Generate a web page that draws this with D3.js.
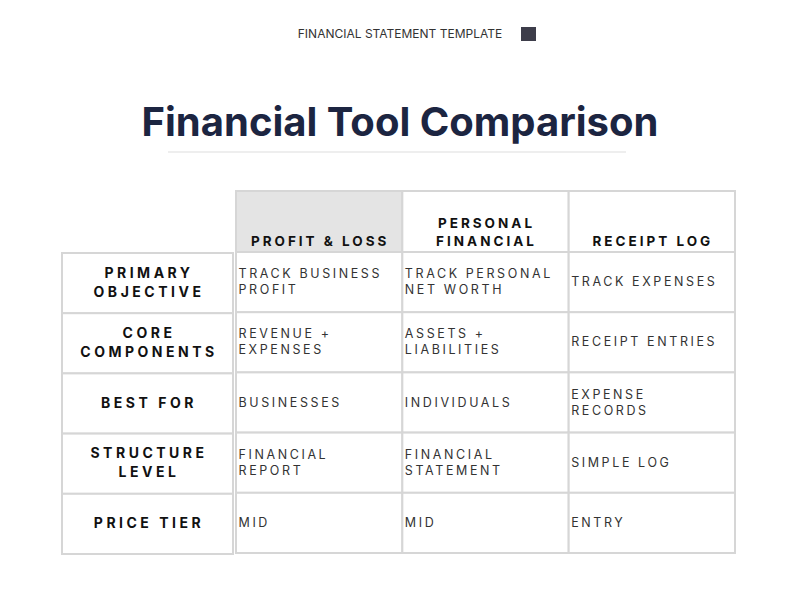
<!DOCTYPE html><html><head><meta charset="utf-8">
<script src="https://cdn.jsdelivr.net/npm/d3@7"></script>
<style>body{margin:0;background:#fff}</style></head><body>
<svg id="c" width="794" height="596"></svg>
<script>
const columns = [["PROFIT & LOSS"], ["PERSONAL","FINANCIAL"], ["RECEIPT LOG"]];
const rowLabels = [["PRIMARY","OBJECTIVE"],["CORE","COMPONENTS"],["BEST FOR"],["STRUCTURE","LEVEL"],["PRICE TIER"]];
const cells = [
 [["TRACK BUSINESS","PROFIT"],["TRACK PERSONAL","NET WORTH"],["TRACK EXPENSES"]],
 [["REVENUE +","EXPENSES"],["ASSETS +","LIABILITIES"],["RECEIPT ENTRIES"]],
 [["BUSINESSES"],["INDIVIDUALS"],["EXPENSE","RECORDS"]],
 [["FINANCIAL","REPORT"],["FINANCIAL","STATEMENT"],["SIMPLE LOG"]],
 [["MID"],["MID"],["ENTRY"]]
];
const svg = d3.select("#c");
const F = "Inter, 'Noto Sans', sans-serif";
svg.append("text").attr("x",400).attr("y",38).attr("text-anchor","middle").attr("font-family",F)
  .attr("font-size",12).attr("fill","#333").text("FINANCIAL STATEMENT TEMPLATE");
svg.append("rect").attr("x",521).attr("y",27).attr("width",15).attr("height",14).attr("fill","#3d3d4a");
svg.append("text").attr("x",400).attr("y",136).attr("text-anchor","middle").attr("font-family",F)
  .attr("font-size",40).attr("font-weight",700).attr("fill","#1c2541").text("Financial Tool Comparison");
svg.append("line").attr("x1",168).attr("x2",626).attr("y1",152).attr("y2",152).attr("stroke","#ddd");

const x = d3.scaleBand().domain(d3.range(3)).range([236,735]);
const y = d3.scaleBand().domain(d3.range(5)).range([252,553]);
const stroke = "#d6d6d6";
// header
columns.forEach((c,i)=>{
  svg.append("rect").attr("x",x(i)).attr("y",191).attr("width",x.bandwidth()).attr("height",61)
    .attr("fill", i===0?"#e4e4e4":"#fff").attr("stroke",stroke).attr("stroke-width",2);
  const n=c.length;
  c.forEach((t,k)=>svg.append("text").attr("x",x(i)+x.bandwidth()/2+1).attr("y",246-(n-1-k)*18)
    .attr("text-anchor","middle").attr("font-family",F).attr("font-size",13.5).attr("font-weight",700)
    .attr("letter-spacing",3).attr("fill","#111").text(t));
});
rowLabels.forEach((r,j)=>{
  const cy=y(j)+y.bandwidth()/2;
  svg.append("rect").attr("x",62).attr("y",y(j)+1).attr("width",171).attr("height",y.bandwidth())
    .attr("fill","#fff").attr("stroke",stroke).attr("stroke-width",2);
  const n=r.length;
  r.forEach((t,k)=>svg.append("text").attr("x",149).attr("y",cy+5+(k-(n-1)/2)*19)
    .attr("text-anchor","middle").attr("font-family",F).attr("font-size",14).attr("font-weight",700)
    .attr("letter-spacing",3.5).attr("fill","#111").text(t));
  cells[j].forEach((c,i)=>{
    svg.append("rect").attr("x",x(i)).attr("y",y(j)).attr("width",x.bandwidth()).attr("height",y.bandwidth())
      .attr("fill","#fff").attr("stroke",stroke).attr("stroke-width",2);
    const m=c.length;
    c.forEach((t,k)=>svg.append("text").attr("x",x(i)+2.5).attr("y",cy+4+(k-(m-1)/2)*16)
      .attr("font-family",F).attr("font-size",12.5).attr("letter-spacing",2.6).attr("fill","#333").text(t));
  });
});
</script></body></html>
